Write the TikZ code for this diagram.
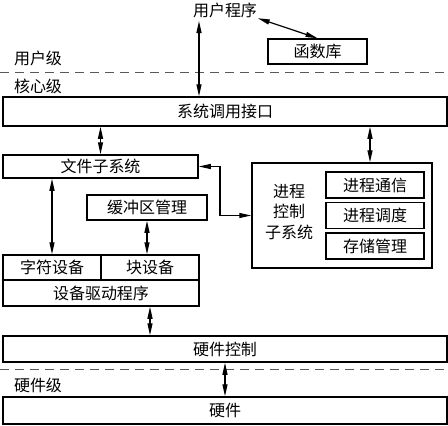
\documentclass[tikz,border=0pt]{standalone}
\usepackage{fontspec}
\setmainfont{Noto Sans CJK SC}
\usetikzlibrary{arrows.meta}

\begin{document}
\begin{tikzpicture}[x=1pt, y=-1pt, line width=1.5pt,
    every node/.style={font=\fontsize{16}{20.5}\selectfont, inner sep=0pt},
    box/.style={draw, rectangle, minimum height=25pt},
    link/.style={line width=1.2pt, {Triangle[length=12pt,width=5pt]}-{Triangle[length=12pt,width=5pt]}},
    level/.style={dash pattern=on 9pt off 6pt, line width=1pt, gray!70!black}]
    \useasboundingbox (0,0) rectangle (448,426);
    % user level
    \node (up) at (225,10) {用户程序};
    \node[box, minimum width=99pt] (lib) at (317.5,51.5) {函数库};
    \node (ulvl) at (38,58) {用户级};
    \draw[level] (0,72) -- (448,72);
    \node (klvl) at (38,86) {核心级};
    % kernel level
    \node[box, minimum width=444pt, minimum height=29pt] (sci) at (225,111.5) {系统调用接口};
    \node[box, minimum width=195pt, minimum height=23pt] (fs) at (100.5,166.5) {文件子系统};
    \node[box, minimum width=120pt] (buf) at (147,207.5) {缓冲区管理};
    \node[box, minimum width=98pt] (cd) at (52,267.5) {字符设备};
    \node[box, minimum width=98pt] (bd) at (150,267.5) {块设备};
    \node[box, minimum width=196pt, minimum height=26pt] (drv) at (101,293) {设备驱动程序};
    \node[box, minimum width=180pt, minimum height=105pt] (proc) at (342,215.5) {};
    \node[align=center] (proclbl) at (289,212) {进程\\控制\\子系统};
    \foreach \name/\y/\txt in {ipc/185/进程通信, sched/215.5/进程调度, mem/246/存储管理}
        \node[box, minimum width=98pt, minimum height=26pt] (\name) at (375,\y) {\txt};
    \node[box, minimum width=444pt, minimum height=26pt] (hwc) at (225,349) {硬件控制};
    % hardware level
    \draw[level] (0,369) -- (448,369);
    \node (hlvl) at (38,385) {硬件级};
    \node[box, minimum width=444pt, minimum height=27pt] (hw) at (225,410.5) {硬件};
    \coordinate (upa) at (199,21);
    \coordinate (pcx) at (370,140);
    \coordinate (bend) at (220,166.5);
    \draw[link] (upa) -- (upa |- sci.north);
    \draw[link] (up.south east) -- (lib.north);
    \draw[link] (fs.north |- sci.south) -- (fs.north);
    \draw[link] (pcx |- sci.south) -- (pcx |- proc.north);
    \draw[link] (fs.east) -- (bend) |- (proc.west);
    \draw[link] (cd.north |- fs.south) -- (cd.north);
    \draw[link] (buf.south) -- (buf.south |- bd.north);
    \draw[link] (bd.south |- drv.south) -- (bd.south |- hwc.north);
    \draw[link] (hwc.south) -- (hw.north);
\end{tikzpicture}
\end{document}
